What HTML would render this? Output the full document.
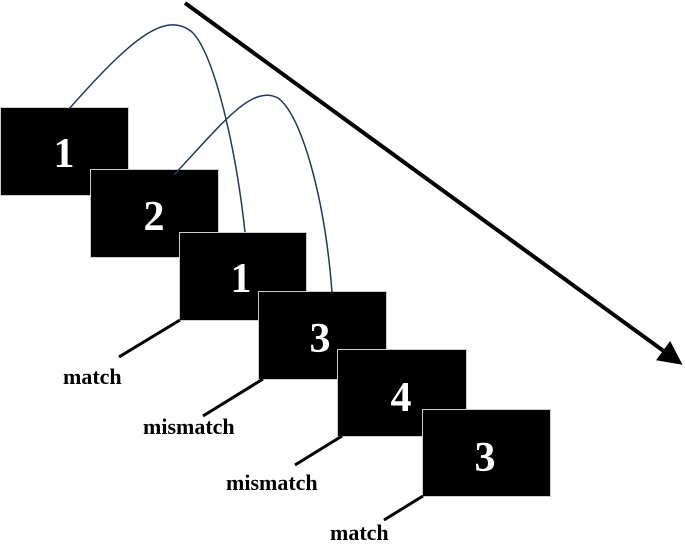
<!DOCTYPE html>
<html><head><meta charset="utf-8"><style>
html,body{margin:0;padding:0;background:#fff;}
svg{display:block;}
text{font-family:"Liberation Serif",serif;font-weight:bold;}
</style></head><body>
<svg width="685" height="547" viewBox="0 0 685 547" xmlns="http://www.w3.org/2000/svg">
<defs><marker id="ah" markerWidth="6" markerHeight="6" refX="4" refY="3" orient="auto" markerUnits="strokeWidth"><path d="M0,0 L6,3 L0,6 z" fill="#000"/></marker></defs>
<line x1="185" y1="3" x2="676" y2="360" stroke="#000" stroke-width="4" marker-end="url(#ah)"/>
<g stroke="#ccc" stroke-width="1" fill="#000">
<rect x="0.5" y="107.5" width="128" height="88"/>
<rect x="90.5" y="169.5" width="128" height="88"/>
<rect x="179.5" y="232.5" width="127" height="88"/>
<rect x="258.5" y="291.5" width="128" height="88"/>
<rect x="337.5" y="349.5" width="129" height="87"/>
<rect x="422.5" y="409.5" width="128" height="87"/>
</g>
<g fill="#fff" font-size="42" text-anchor="middle">
<text x="64" y="167">1</text>
<text x="154" y="230">2</text>
<text x="241" y="292">1</text>
<text x="320" y="352">3</text>
<text x="401" y="411">4</text>
<text x="485" y="471">3</text>
</g>
<g fill="none" stroke="#1f3864" stroke-width="1.5">
<path d="M69,109 C130,40 165,10 192,32 C215,55 236,150 245,232"/>
<path d="M174,175 C225,120 252,85 278,98 C302,115 325,200 332,292"/>
</g>
<g stroke="#000" stroke-width="3">
<line x1="180" y1="320" x2="119" y2="357"/>
<line x1="263" y1="379" x2="203" y2="416"/>
<line x1="342" y1="436" x2="295" y2="465"/>
<line x1="423" y1="496" x2="384" y2="520"/>
</g>
<g fill="#000" font-size="22">
<text x="63" y="384">match</text>
<text x="143" y="434">mismatch</text>
<text x="226" y="490">mismatch</text>
<text x="330" y="540">match</text>
</g>
</svg>
</body></html>
